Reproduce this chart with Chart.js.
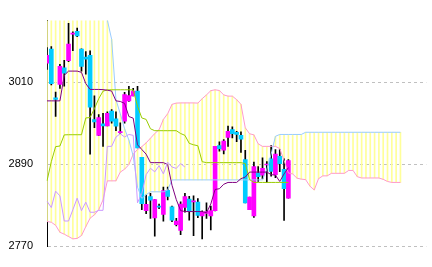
<!DOCTYPE html>
<html>
<head>
<meta charset="utf-8">
<script src="https://cdn.jsdelivr.net/npm/chart.js@4/dist/chart.umd.min.js"></script>
<style>
  html, body { margin: 0; padding: 0; background: #fff; }
  canvas { display: block; }
</style>
</head>
<body>
<canvas id="myChart" width="432" height="267"></canvas>
<script>
// candles (57 sessions)
const opens = [3037.7, 3058.3, 2987.3, 3006.9, 3030.8, 3041.3, 3080.2, 3084.5, 3058.3, 3046.8,
  3049.1, 2955.2, 2932.3, 2949.2, 2946, 2967.6, 2956.6, 2936.3, 2952.9, 2982.7,
  2990, 2996.9, 2900, 2822.3, 2842.9, 2811.7, 2828.5, 2816.8, 2852, 2827.8,
  2801.6, 2793.4, 2826.8, 2839.2, 2835, 2834.6, 2814.4, 2818.1, 2814.4, 2822.3,
  2917.5, 2910.7, 2929.1, 2940.9, 2936.8, 2932.3, 2896.9, 2823.6, 2814.4, 2877.3,
  2874.1, 2889, 2897.9, 2874.9, 2901.6, 2882.8, 2840.5];
const highs = [3060.5, 3062, 2995.5, 3036, 3042, 3095.9, 3083.5, 3089, 3058.8, 3054.6,
  3056, 2990, 2962.5, 2964.3, 2966.6, 2970, 2966.6, 2950.5, 2995, 3003.8,
  3001, 3003.8, 2900, 2845, 2847.4, 2838.3, 2832, 2856.6, 2856.6, 2829,
  2811, 2835, 2847.4, 2843, 2844, 2840, 2822, 2833.7, 2829, 2916.2,
  2923, 2926, 2946, 2944.6, 2938, 2937.6, 2910.3, 2842, 2893.4, 2886.5,
  2899.3, 2893.8, 2917.3, 2911.6, 2911.6, 2897.9, 2897];
const lows = [3028.5, 3006, 2959.8, 3001, 3004, 3040, 3056, 3076.6, 3026.2, 3021.6,
  2904.8, 2943.7, 2932, 2916.2, 2946, 2950, 2939, 2935, 2950, 2982,
  2990, 2913.9, 2823.6, 2818, 2810.8, 2785, 2825, 2806.8, 2838, 2806,
  2800, 2787, 2819.9, 2808.5, 2785.5, 2812, 2781, 2810.8, 2794, 2822,
  2909.3, 2905, 2916.2, 2928.4, 2923, 2907.4, 2833.7, 2823.6, 2812.2, 2865,
  2869, 2863.5, 2872.5, 2870.4, 2879.3, 2808.1, 2840.5];
const closes = [3049.1, 3007.9, 2984.9, 3033, 3023, 3065.6, 3081.5, 3077.6, 3033, 3043.6,
  2973.5, 2951.9, 2958.4, 2946, 2964.3, 2952.9, 2945.6, 2937.3, 2991.8, 2990.4,
  2996.9, 2913.9, 2832.5, 2831.4, 2837.4, 2838.3, 2827.5, 2851.5, 2842.9, 2808.5,
  2807.1, 2831.9, 2842.9, 2820.9, 2836, 2815.4, 2819.9, 2820.9, 2822.3, 2916.2,
  2913, 2924, 2938.2, 2934.6, 2933.6, 2926.8, 2833.7, 2841.9, 2886.5, 2871.8,
  2884.1, 2890, 2879.6, 2904.8, 2891, 2854.3, 2895.5];

// ichimoku lines
const tenkan = [2982.7, 2982.7, 2982.7, 2982.7, 3020, 3026.2, 3026.2, 3026.2, 3024.4, 3007.9,
  2999.4, 2999.4, 2999.4, 2999.1, 2998.3, 2997, 2982.7, 2981.8, 2979, 2959.8,
  2957.4, 2918.5, 2911.6, 2904.8, 2892.4, 2892.4, 2892.4, 2892.4, 2889.6, 2859.4,
  2838.3, 2822.3, 2820.9, 2820.9, 2820.9, 2820.9, 2820.9, 2819.1, 2831.9, 2853.2,
  2854.3, 2860.8, 2863.5, 2863.5, 2863.5, 2869, 2871.3, 2878.6, 2878.6, 2878.6,
  2878.6, 2878.6, 2874.9, 2874.1, 2864.9, 2875.9, 2885.1];
const kijun = [2865.8, 2893.8, 2915.8, 2916.7, 2933, 2933.2, 2933.2, 2933.2, 2933.2, 2957.7,
  2958.4, 2971.2, 2985.9, 2996.9, 2998.7, 2998.9, 2998.9, 2998.9, 2998.9, 2998.9,
  2998.7, 2974.9, 2957.7, 2955.6, 2941.9, 2939.1, 2939.1, 2939.1, 2939.1, 2939.1,
  2939.1, 2935, 2932.3, 2920.6, 2918.5, 2917.1, 2893.8, 2892.4, 2892.4, 2892.4,
  2892.4, 2892.4, 2892.4, 2892.4, 2892.4, 2892.4, 2891, 2867.6, 2863.5, 2863.5,
  2863.5, 2863.5, 2863.5, 2863.5, 2863.5, 2863.5, 2863.5];
const senkouA = [3125, 3125, 3125, 3125, 3125, 3125, 3125, 3125, 3125, 3125,
  3125, 3125, 3125, 3115, 3101, 3072.5, 2984.5, 2963.9, 2941.9, 2925.4,
  2902, 2856.6, 2840.1, 2845.6, 2849.8, 2849.8, 2849.8, 2849.8, 2852.5, 2867.2,
  2867.2, 2867.2, 2867.2, 2867.2, 2867.2, 2867.2, 2867.2, 2867.2, 2867.2, 2867.2,
  2867.2, 2867.2, 2867.2, 2867.2, 2867.2, 2867.2, 2867.2, 2867.2, 2867.2, 2867.2,
  2867.2, 2882.8, 2904.8, 2930.9, 2933.6, 2933.6, 2933.6, 2933.6, 2933.6, 2933.6,
  2936.8, 2936.8, 2936.8, 2936.8, 2936.8, 2936.8, 2936.8, 2936.8, 2936.8, 2936.8,
  2936.8, 2936.8, 2936.8, 2936.8, 2936.8, 2936.8, 2936.8, 2936.8, 2936.8, 2936.8,
  2936.8, 2936.8, 2936.8];
const senkouB = [2806.4, 2805.3, 2800.9, 2790.6, 2787.9, 2784.4, 2781, 2781.7, 2785.8, 2798.9,
  2811.3, 2816.1, 2823.6, 2838, 2865.8, 2865.8, 2865.8, 2878.6, 2882.8, 2889.6,
  2904.8, 2911.6, 2915.8, 2921.3, 2928.1, 2935, 2940.5, 2955.6, 2963.9, 2977.6,
  2979.4, 2979.7, 2979.7, 2979.7, 2979.7, 2979.4, 2985.9, 2991.4, 2997.6, 2998.9,
  2997.8, 2991.4, 2989.6, 2989.6, 2984.5, 2977.6, 2943.3, 2934.6, 2933, 2919.9,
  2916.2, 2916.2, 2916.2, 2916.2, 2913, 2895.7, 2877.3, 2875.9, 2869.7, 2868.3,
  2867.6, 2858, 2852.5, 2869, 2873.1, 2873.1, 2876.8, 2876.8, 2876.8, 2876.8,
  2881, 2881, 2871.8, 2870, 2870, 2870, 2870, 2870, 2868, 2864.9,
  2863.5, 2863.5, 2863.5];
const chikou = [2836, 2826.8, 2850.7, 2843.8, 2807.1, 2807.1, 2823.6, 2840.5, 2822.3, 2834.6,
  2819.9, 2819.9, 2822.7, 2822.7, 2916.2, 2916.2, 2929.9, 2934.6, 2929.9, 2933.6,
  2932.3, 2833.7, 2847.4, 2874.9, 2884.1, 2879, 2888, 2876, 2893, 2886,
  2884, 2891, 2886];

const yTicks = [2770, 2890, 3010];
const slots = 89; // candles + 26 ahead + empty right margin

const labels = Array.from({ length: slots }, (_, i) => i);
const bodyColors = opens.map((o, i) => closes[i] >= o ? '#ff00ff' : '#00ccff');

const line = (label, data, color, order) => ({
  type: 'line', label, data, borderColor: color, borderWidth: 1,
  pointRadius: 0, tension: 0, fill: false, order
});

const ctx = document.getElementById('myChart').getContext('2d');

const myChart = new Chart(ctx, {
  type: 'bar',
  data: {
    labels: labels,
    datasets: [
      line('遅行スパン', chikou, '#cc99ff', 1),
      line('転換線', tenkan, '#800080', 2),
      line('基準線', kijun, '#99cc00', 3),
      line('先行スパン1', senkouA, '#99ccff', 4),
      line('先行スパン2', senkouB, '#ff99cc', 5),
      {
        label: 'body', data: opens.map((o, i) => [o, closes[i]]),
        backgroundColor: bodyColors, barThickness: 4, minBarLength: 1, grouped: false, order: 6
      },
      {
        label: 'wick', data: lows.map((l, i) => [l, highs[i]]),
        backgroundColor: '#000000', barThickness: 1, grouped: false, order: 7
      },
      {
        label: 'cloud', data: senkouA.map((a, i) => [a, senkouB[i]]),
        backgroundColor: '#ffff99', barThickness: 1, grouped: false, order: 8
      }
    ]
  },
  options: {
    responsive: false,
    animation: false,
    layout: { padding: { left: 0, top: 13, right: 5.7, bottom: 14 } },
    plugins: { legend: { display: false }, tooltip: { enabled: false } },
    scales: {
      x: { type: 'category', display: false, offset: false },
      y: {
        min: 2770,
        max: 3100,
        afterBuildTicks: (scale) => { scale.ticks = yTicks.map(v => ({ value: v })); },
        afterFit: (scale) => { scale.width = 47; },
        border: { display: true, color: '#000000', width: 1, dash: [3, 3] },
        grid: { color: '#c0c0c0', lineWidth: 1, drawTicks: false },
        ticks: {
          padding: 14,
          color: '#000000',
          font: { family: '"Liberation Sans", Arial, sans-serif', size: 11 },
          callback: (v) => String(v)
        }
      }
    }
  }
});
</script>
</body>
</html>
